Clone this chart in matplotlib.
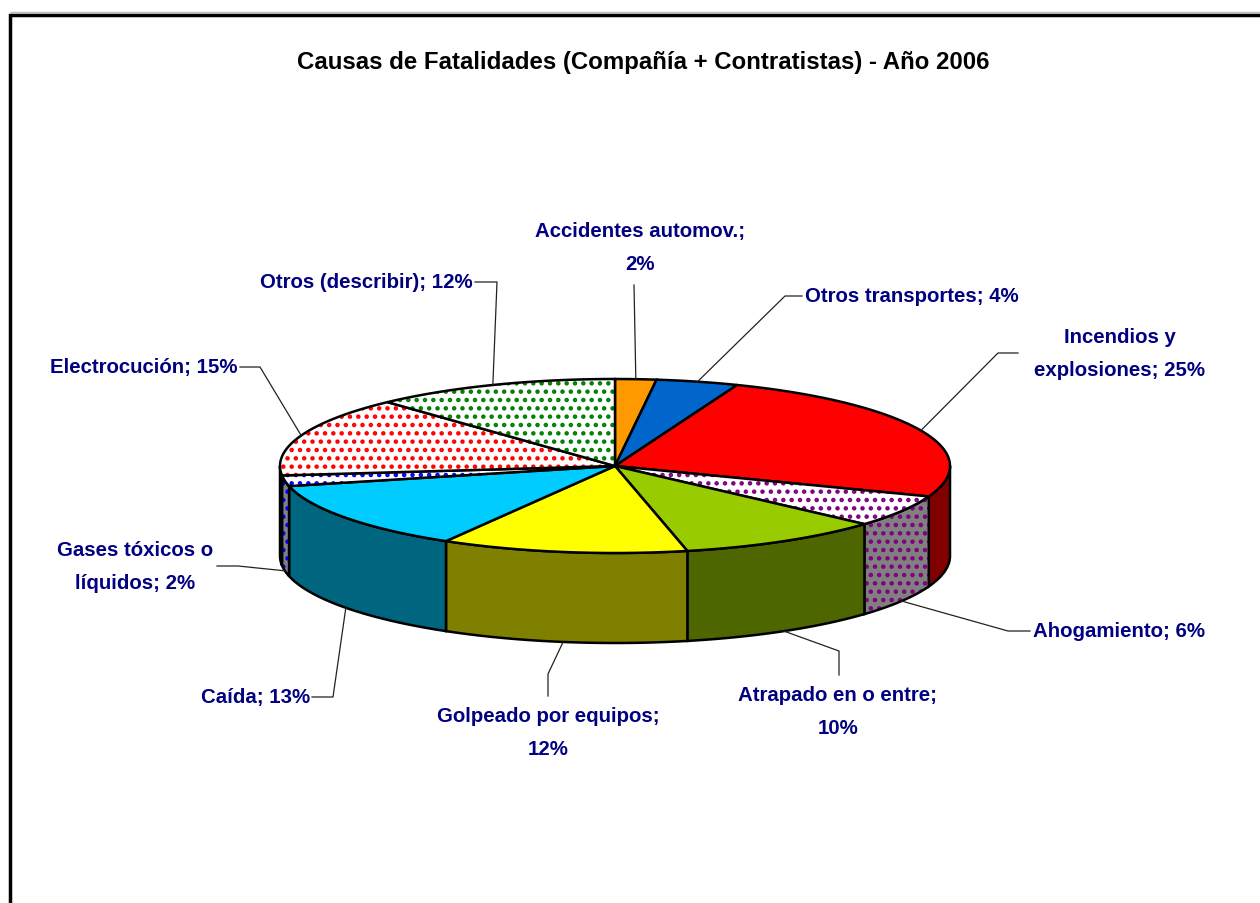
import numpy as np
import matplotlib.pyplot as plt
from matplotlib.patches import Polygon

plt.rcParams['font.family'] = ['Liberation Sans', 'DejaVu Sans']
plt.rcParams['hatch.linewidth'] = 2.0

titulo = "Causas de Fatalidades (Compañía + Contratistas) - Año 2006"
causas = ["Accidentes automov.", "Otros transportes", "Incendios y explosiones",
          "Ahogamiento", "Atrapado en o entre", "Golpeado por equipos", "Caída",
          "Gases tóxicos o líquidos", "Electrocución", "Otros (describir)"]
porcentajes = [2, 4, 25, 6, 10, 12, 13, 2, 15, 12]

# colores de la cara superior, del costado y de los puntos (tramas)
color_sup = ['#FF9900', '#0066CC', '#FF0000', 'white', '#99CC00',
             '#FFFF00', '#00CCFF', 'white', 'white', 'white']
color_lado = ['#804C00', '#003366', '#800000', '#808080', '#4D6600',
              '#808000', '#006680', '#808080', '#808080', '#808080']
color_punto = [None, None, None, '#800080', None, None, None,
               '#0000FF', '#FF0000', '#008000']

# donde se corta la etiqueta en dos lineas
corte = [";", None, " y", None, ";", ";", None, " o", None, None]
# posicion del texto, alineacion y codo de la linea guia
pos_texto = [(640, 248, 'center'), (805, 297, 'left'), (1120, 354, 'center'),
             (1033, 632, 'left'), (838, 712, 'center'), (548, 733, 'center'),
             (310, 698, 'right'), (135, 567, 'center'), (238, 368, 'right'),
             (473, 283, 'right')]
codos = [[(634, 286)], [(802, 297), (785, 297)], [(1018, 354), (998, 354)],
         [(1030, 632), (1008, 632)], [(839, 676), (839, 652)],
         [(548, 697), (548, 675)], [(312, 698), (333, 698)],
         [(217, 567), (238, 567)], [(240, 368), (260, 368)],
         [(475, 283), (497, 283)]]

fig = plt.figure(figsize=(12.6, 9.04), dpi=100)
ax = fig.add_axes([0, 0, 1, 1])
ax.set_xlim(0, 1260)
ax.set_ylim(904, 0)
ax.axis('off')

cx, cy, rx, ry, prof = 615, 467, 335, 87, 90


def borde(t, dy=0):
    t = np.radians(t)
    return np.column_stack([cx + rx * np.sin(t), cy - ry * np.cos(t) + dy])


def pintar(xy, cara, punto, z):
    if punto:
        ax.add_patch(Polygon(xy, closed=True, facecolor=cara, edgecolor=punto,
                             hatch='..', lw=0, zorder=z))
        ax.add_patch(Polygon(xy, closed=True, fill=False, edgecolor='black',
                             lw=1.8, zorder=z))
    else:
        ax.add_patch(Polygon(xy, closed=True, facecolor=cara, edgecolor='black',
                             lw=1.8, zorder=z))


total = float(sum(porcentajes))
lim = np.concatenate([[0], np.cumsum(porcentajes)]) / total * 360

for i in range(len(causas)):
    a, b = lim[i], lim[i + 1]
    # costado visible (mitad delantera)
    lo, hi = max(a, 90), min(b, 270)
    if lo < hi:
        t = np.linspace(lo, hi, 80)
        xy = np.vstack([borde(t), borde(t[::-1], prof)])
        pintar(xy, color_lado[i], color_punto[i], 2)
    # cara superior
    t = np.linspace(a, b, 120)
    xy = np.vstack([[cx, cy], borde(t)])
    pintar(xy, color_sup[i], color_punto[i], 3)

    # etiqueta
    mid = (a + b) / 2
    anc = borde([mid])[0]
    if np.cos(np.radians(mid)) < 0:
        anc[1] += prof
    pts = np.array(codos[i] + [tuple(anc)])
    ax.plot(pts[:, 0], pts[:, 1], color='#222222', lw=0.9, zorder=4)
    txt = f"{causas[i]}; {porcentajes[i]}%"
    if corte[i]:
        txt = txt.replace(corte[i] + " ", corte[i] + "\n", 1)
    x, y, ha = pos_texto[i]
    ax.text(x, y, txt, ha=ha, va='center', multialignment='center',
            fontsize=14.7, fontweight='bold', color='#000080', linespacing=1.95,
            zorder=5)

ax.text(643, 62, titulo, ha='center', va='center', fontsize=17.3,
        fontweight='bold', color='black')

# marco del grafico
ax.plot([9.5, 1260], [13, 13], color='#BBBBBB', lw=1, solid_capstyle='butt')
ax.plot([9.5, 9.5, 1260], [904, 15.5, 15.5], color='black', lw=2.5,
        solid_joinstyle='miter')

fig.savefig('out.png', dpi=100)
